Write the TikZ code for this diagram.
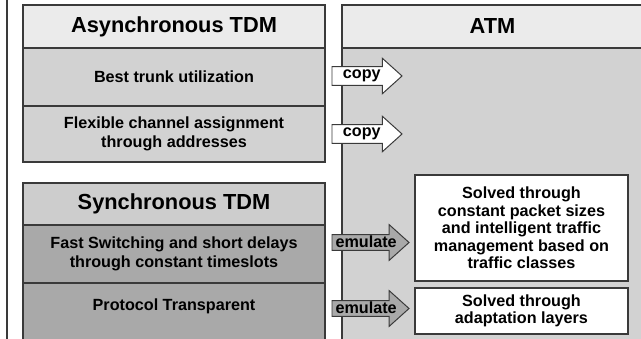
\documentclass[tikz,border=0pt]{standalone}
\usepackage{fontspec}
\setmainfont{Liberation Sans}
\usepackage{tikz}
\usetikzlibrary{positioning, shapes.arrows}
\usepackage{xcolor}
\definecolor{asynchdr}{HTML}{EBEBEB}
\definecolor{asyncrow}{HTML}{D2D2D2}
\definecolor{synchdr}{HTML}{CDCDCD}
\definecolor{syncrow}{HTML}{A9A9A9}
\definecolor{edge}{HTML}{3A3A3A}

\begin{document}
\begin{tikzpicture}[
  x=0.025cm, y=-0.025cm,
  every node/.style={font=\bfseries\fontsize{11.5}{13.2}\selectfont, align=center, outer sep=0pt},
  cell/.style={draw=edge, line width=0.8pt, minimum width=7.55cm, inner sep=0pt},
  hdr/.style={cell, font=\bfseries\fontsize{15.5}{18}\selectfont},
  solved/.style={draw=edge, line width=0.8pt, fill=white, minimum width=5.325cm,
                 inner sep=0pt, font=\bfseries\fontsize{11.5}{12.4}\selectfont},
  arrowbox/.style={single arrow, draw=edge, line width=0.7pt, single arrow tip angle=84,
                   inner xsep=1pt, anchor=tail},
  copyarrow/.style={arrowbox, fill=white, minimum height=1.75cm, text height=6pt,
                    text depth=2.5pt, inner ysep=2pt, single arrow head extend=6pt},
  emularrow/.style={arrowbox, fill=syncrow, minimum height=1.925cm, text height=8pt,
                    text depth=0.5pt, inner ysep=1pt, single arrow head extend=7.1pt}
]
\useasboundingbox (0,0) rectangle (641,339);
\draw[line width=1.6pt, edge] (7,-5) coordinate (frametop) -- (7,345) coordinate (framebot);

% asynchronous TDM
\node[hdr, fill=asynchdr, minimum height=1.075cm] (async) at (174,26.5) {Asynchronous TDM};
\node[cell, fill=asyncrow, minimum height=1.45cm, below=0pt of async] (trunk) {Best trunk utilization};
\node[cell, fill=asyncrow, minimum height=1.4cm, below=0pt of trunk] (flex) {Flexible channel assignment\\through addresses};

% synchronous TDM
\node[hdr, fill=synchdr, minimum height=1.05cm] (sync) at (174,204) {Synchronous TDM};
\node[cell, fill=syncrow, minimum height=1.45cm, below=0pt of sync] (fast) {Fast Switching and short delays\\through constant timeslots};
\node[cell, fill=syncrow, minimum height=1.55cm, text height=8.5pt, text depth=14pt,
      below=0pt of fast] (proto) {Protocol Transparent};

% ATM
\node[hdr, fill=asynchdr, minimum width=7.525cm, minimum height=1.075cm] (atm) at (492.5,26.5) {ATM};
\node[cell, fill=asyncrow, minimum width=7.525cm, minimum height=7.325cm, below=0pt of atm] (atmbody) {};

\node[solved, minimum height=2.65cm] (packets) at (521.5,228) {Solved through\\constant packet sizes\\and intelligent traffic\\management based on\\traffic classes};
\node[solved, minimum height=1.15cm, below=0.175cm of packets] (adapt) {Solved through\\adaptation layers};

% arrows between the columns
\node[copyarrow] (copytrunk) at (332,76) {copy};
\node[copyarrow] (copyflex) at (332,134) {copy};
\node[emularrow] (emulfast) at (332,242.5) {emulate};
\node[emularrow] (emulproto) at (332,308.5) {emulate};
\end{tikzpicture}
\end{document}
